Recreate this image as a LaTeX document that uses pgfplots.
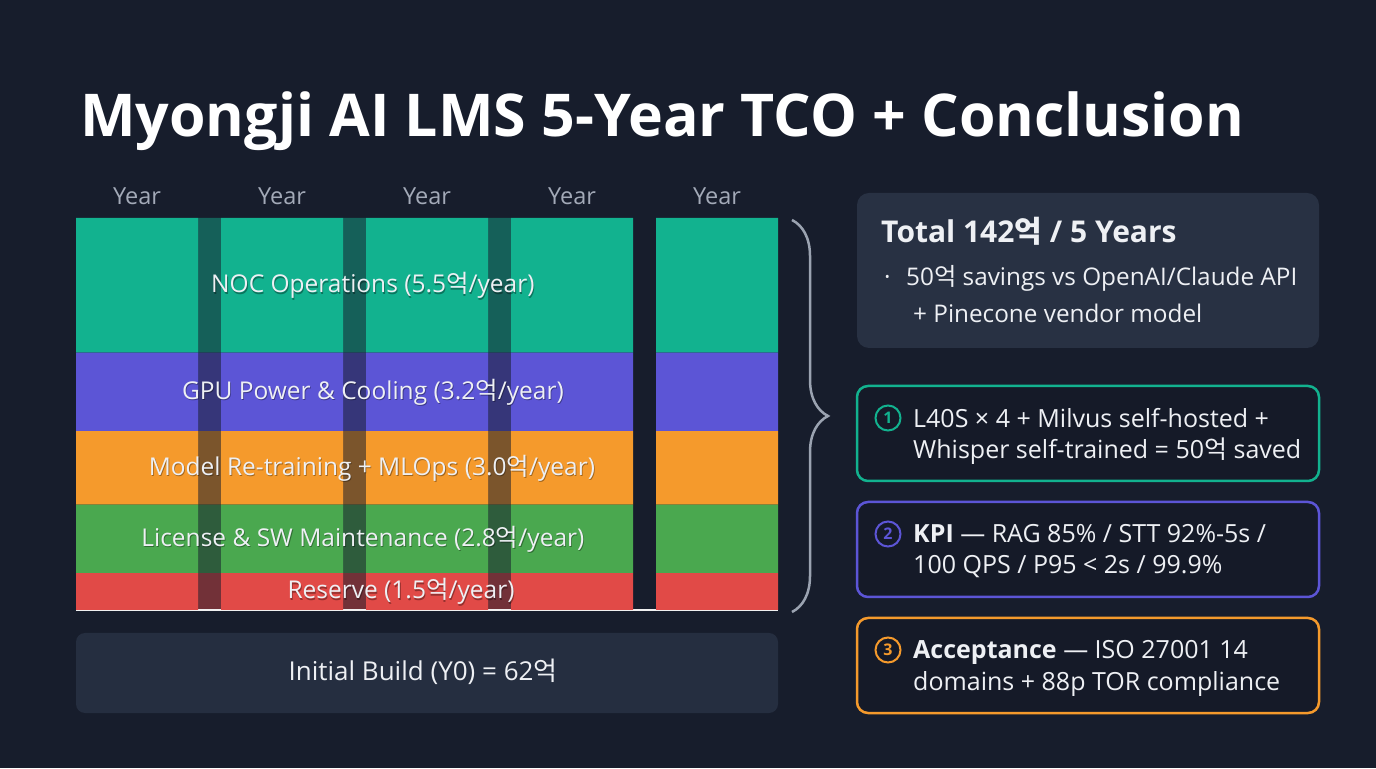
\documentclass[border=0pt]{standalone}
\usepackage{fontspec}
\usepackage{pgfplots}
\pgfplotsset{compat=1.18}
\usetikzlibrary{decorations.pathreplacing}
\setmainfont{Open Sans}
\newfontfamily\kr{Noto Sans CJK KR}
\newcommand\eok{{\kr 억}}
\definecolor{bg}{HTML}{171D2C}
\definecolor{cNOC}{HTML}{12B28F}
\definecolor{cGPU}{HTML}{5C55D6}
\definecolor{cMOD}{HTML}{F59A2C}
\definecolor{cLIC}{HTML}{4AA84F}
\definecolor{cRES}{HTML}{E14A47}
\definecolor{boxfill}{HTML}{283143}
\definecolor{buildfill}{HTML}{252E40}
\definecolor{darkfill}{HTML}{151A28}
\definecolor{yeargray}{HTML}{A3AAB8}
\definecolor{bracegray}{HTML}{9BA3B1}
\definecolor{txt}{HTML}{EEF0F4}
\pgfplotsset{barbase/.style={at={(76bp,158bp)}, anchor=south west, scale only axis,
  width=702bp, height=392bp, xmin=0.5793, xmax=5.4207, ymin=0, ymax=16, ybar stacked}}
\tikzset{
  lbl/.style={text=txt, font=\fontsize{24.5bp}{24.5bp}\selectfont},
  shd/.style={text=black, opacity=0.35, font=\fontsize{24.5bp}{24.5bp}\selectfont, xshift=0.8bp, yshift=-1.6bp}}
\newcommand\barlabel[2]{\node[shd] at (#1) {#2};\node[lbl] at (#1) {#2};}
\begin{document}
\begin{tikzpicture}
\begin{scope}[x=1bp,y=1bp]
\fill[bg] (0,0) rectangle (1376,768);
\node[anchor=base west, inner sep=0, text=white, font=\bfseries\fontsize{59bp}{59bp}\selectfont] at (80,631) {Myongji AI LMS 5-Year TCO + Conclusion};
\end{scope}

% gap strips between bars 1-4
\begin{axis}[barbase, hide axis, bar width=0.1586]
\addplot[fill=cRES!45!bg, draw=none] coordinates {(1.5,1.5) (2.5,1.5) (3.5,1.5)};
\addplot[fill=cLIC!45!bg, draw=none] coordinates {(1.5,2.8) (2.5,2.8) (3.5,2.8)};
\addplot[fill=cMOD!45!bg, draw=none] coordinates {(1.5,3.0) (2.5,3.0) (3.5,3.0)};
\addplot[fill=cGPU!45!bg, draw=none] coordinates {(1.5,3.2) (2.5,3.2) (3.5,3.2)};
\addplot[fill=cNOC!45!bg, draw=none] coordinates {(1.5,5.5) (2.5,5.5) (3.5,5.5)};
\end{axis}

\begin{axis}[barbase, bar width=0.8414,
  axis line style={draw=none}, ytick=\empty, xtick={1,2,3,4,5},
  xticklabels={Year,Year,Year,Year,Year}, xticklabel pos=upper, major tick length=0pt,
  xticklabel style={anchor=base, yshift=13bp, text=yeargray, font=\fontsize{23.5bp}{23.5bp}\selectfont},
  clip=false]
\addplot[fill=cRES, draw=none] coordinates {(1,1.5) (2,1.5) (3,1.5) (4,1.5) (5,1.5)};
\addplot[fill=cLIC, draw=none] coordinates {(1,2.8) (2,2.8) (3,2.8) (4,2.8) (5,2.8)};
\addplot[fill=cMOD, draw=none] coordinates {(1,3.0) (2,3.0) (3,3.0) (4,3.0) (5,3.0)};
\addplot[fill=cGPU, draw=none] coordinates {(1,3.2) (2,3.2) (3,3.2) (4,3.2) (5,3.2)};
\addplot[fill=cNOC, draw=none] coordinates {(1,5.5) (2,5.5) (3,5.5) (4,5.5) (5,5.5)};
\draw[white!88!gray, line width=1.5bp] (axis cs:0.5793,0) -- (axis cs:5.4207,0);
\coordinate (lNOC) at (axis cs:2.627,13.25);
\coordinate (lGPU) at (axis cs:2.627,8.9);
\coordinate (lMOD) at (axis cs:2.620,5.8);
\coordinate (lLIC) at (axis cs:2.558,2.9);
\coordinate (lRES) at (axis cs:2.821,0.75);
\end{axis}
\barlabel{lNOC}{NOC Operations (5.5\eok/year)}
\barlabel{lGPU}{GPU Power \& Cooling (3.2\eok/year)}
\barlabel{lMOD}{Model Re-training + MLOps (3.0\eok/year)}
\barlabel{lLIC}{License \& SW Maintenance (2.8\eok/year)}
\barlabel{lRES}{Reserve (1.5\eok/year)}

\begin{scope}[x=1bp,y=1bp]
% brace
\draw[bracegray, line width=2.5bp, decorate, decoration={brace, amplitude=36bp}] (792,548) -- (792,156);

% initial build
\fill[buildfill, rounded corners=9bp] (76,55) rectangle (778,135);
\node[text=txt, font=\fontsize{26bp}{26bp}\selectfont] at (423,96) {Initial Build (Y0) = 62\eok};

% total box
\fill[boxfill, rounded corners=12bp] (857,420) rectangle (1319,575);
\node[anchor=base west, inner sep=0, text=txt, font=\bfseries\fontsize{30bp}{30bp}\selectfont] at (881,525) {Total 142{\kr\bfseries 억} / 5 Years};
\tikzset{rt/.style={anchor=base west, inner sep=0, text=txt, font=\fontsize{25bp}{25bp}\selectfont},
  rt2/.style={anchor=base west, inner sep=0, text=txt, font=\fontsize{24.3bp}{24.3bp}\selectfont}}
\node[rt2] at (884,482) {·};
\node[rt2] at (906,482) {50\eok{} savings vs OpenAI/Claude API};
\node[rt2] at (913,445) {+ Pinecone vendor model};

% box 1
\draw[cNOC, line width=2.5bp, fill=darkfill, rounded corners=11bp] (857,287) rectangle (1319,382);
\draw[cNOC, line width=2bp] (888,350) circle (12.5bp);
\node[text=cNOC, font=\bfseries\fontsize{16bp}{16bp}\selectfont] at (888,350) {1};
\node[rt] at (913,340) {L40S × 4 + Milvus self-hosted +};
\node[rt] at (913,309) {Whisper self-trained = 50\eok{} saved};

% box 2
\draw[cGPU, line width=2.5bp, fill=darkfill, rounded corners=11bp] (857,171) rectangle (1319,266);
\draw[cGPU, line width=2bp] (888,234) circle (12.5bp);
\node[text=cGPU, font=\bfseries\fontsize{16bp}{16bp}\selectfont] at (888,234) {2};
\node[rt] at (913,225) {\textbf{KPI} — RAG 85\% / STT 92\%-5s /};
\node[rt] at (913,194) {100 QPS / P95 < 2s / 99.9\%};

% box 3
\draw[cMOD, line width=2.5bp, fill=darkfill, rounded corners=11bp] (857,55) rectangle (1319,150);
\draw[cMOD, line width=2bp] (888,118) circle (12.5bp);
\node[text=cMOD, font=\bfseries\fontsize{16bp}{16bp}\selectfont] at (888,118) {3};
\node[rt] at (913,109) {\textbf{Acceptance} — ISO 27001 14};
\node[rt] at (913,78) {domains + 88p TOR compliance};
\end{scope}
\end{tikzpicture}
\end{document}
